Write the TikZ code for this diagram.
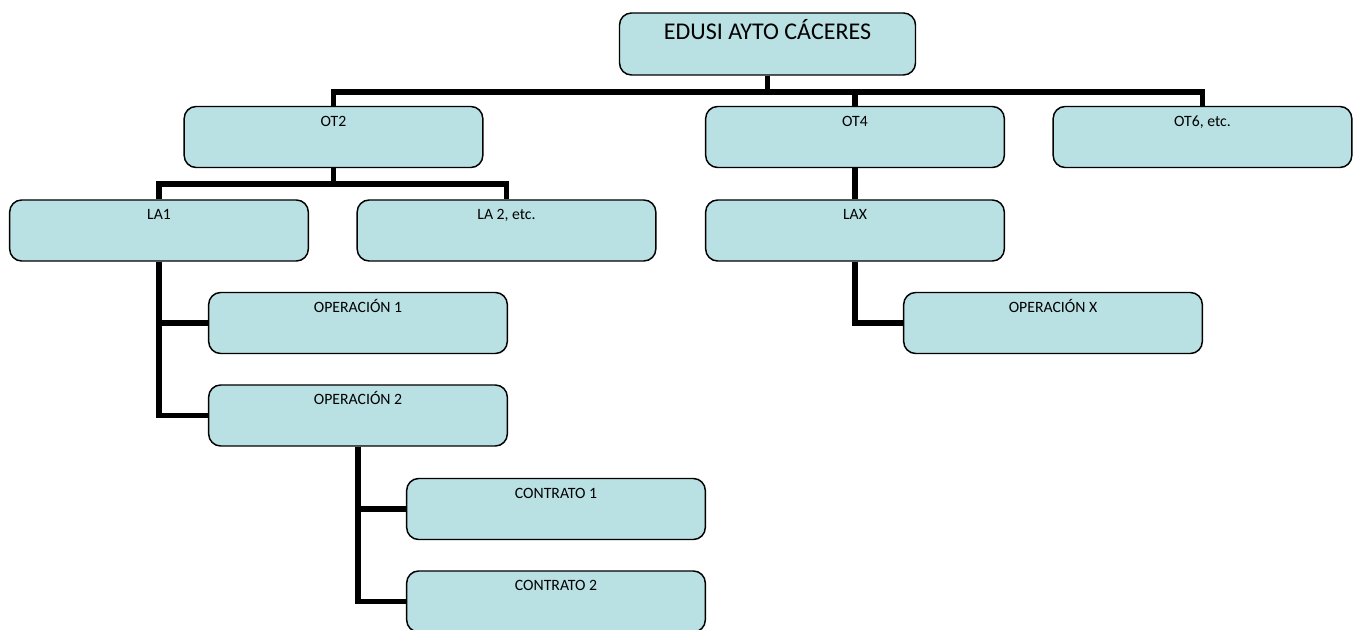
\documentclass[tikz,border=0pt]{standalone}
\usepackage{fontspec}
\setmainfont{Carlito}
\usepackage{xcolor}
\usepackage{tikz}
\usetikzlibrary{positioning}
\definecolor{azulcaja}{RGB}{185,224,227}
\tikzset{
  org_node/.style = {rectangle, rounded corners=9pt, draw=black,
    line width=1.1pt, fill=azulcaja, align=center, inner xsep=2pt,
    inner ysep=0pt, minimum width=224pt},% caja base
  org_n/.style = {org_node, font=\fontsize{11.8pt}{14pt}\selectfont,
    text height=15pt, text depth=30.75pt},% caja normal
  org_t/.style = {org_node, minimum width=222pt,
    font=\fontsize{18pt}{21pt}\selectfont,
    text height=20pt, text depth=26.5pt},% caja de arriba
  org_e/.style = {draw=black, line width=4.4pt}% enlace
}
\begin{document}
\begin{tikzpicture}[x=0.75pt,y=-0.75pt]
\useasboundingbox (0,0) rectangle (1357,630);
\node [org_t] (edusi) at (767.5,44) {EDUSI AYTO CÁCERES};
\node [org_n] (ot2) at (333.5,137) {OT2};
\node [org_n] (ot4) at (855,137) {OT4};
\node [org_n] (ot6) at (1202.5,137) {OT6, etc.};
\node [org_n] (la1) at (159,230.5) {LA1};
\node [org_n] (la2) at (506.5,230.5) {LA 2, etc.};
\node [org_n] (lax) at (855,230.5) {LAX};
\node [org_n] (op1) at (358,323) {OPERACIÓN 1};
\node [org_n] (op2) at (358,415.5) {OPERACIÓN 2};
\node [org_n] (opx) at (1053,323) {OPERACIÓN X};
\node [org_n] (con1) at (556,509) {CONTRATO 1};
\node [org_n] (con2) at (556,601.5) {CONTRATO 2};
% enlaces
\draw [org_e] (edusi.south) -- ++(0,16) -| (ot2.north);
\draw [org_e] (edusi.south) -- ++(0,16) -| (ot4.north);
\draw [org_e] (edusi.south) -- ++(0,16) -| (ot6.north);
\draw [org_e] (ot2.south) -- ++(0,16) -| (la1.north);
\draw [org_e] (ot2.south) -- ++(0,16) -| (la2.north);
\draw [org_e] (ot4.south) -- (lax.north);
\draw [org_e] (la1.south) |- (op1.west);
\draw [org_e] (la1.south) |- (op2.west);
\draw [org_e] (lax.south) |- (opx.west);
\draw [org_e] (op2.south) |- (con1.west);
\draw [org_e] (op2.south) |- (con2.west);
\end{tikzpicture}
\end{document}
